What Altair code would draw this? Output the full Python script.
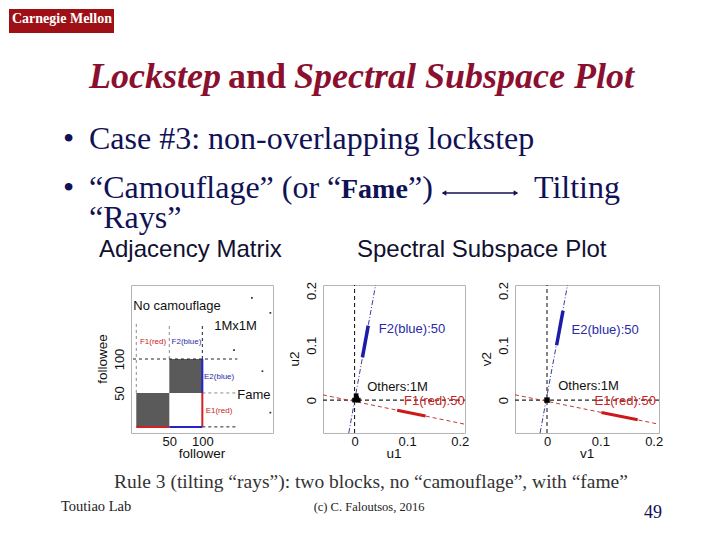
import altair as alt
import pandas as pd

# ---------------- slide text ----------------
LOGO_TEXT = "Carnegie Mellon"
TITLE_PARTS = ["Lockstep", "and", "Spectral Subspace Plot"]
BULLET_1 = "Case #3: non-overlapping lockstep"
BULLET_2_PARTS = ["\u201cCamouflage\u201d (or \u201c", "Fame", "\u201d)", "Tilting"]
BULLET_2_WRAP = "\u201cRays\u201d"
SECTION_TITLES = ["Adjacency Matrix", "Spectral Subspace Plot"]
CAPTION = "Rule 3 (tilting \u201crays\u201d): two blocks, no \u201ccamouflage\u201d, with \u201cfame\u201d"
FOOTER_LEFT = "Toutiao Lab"
FOOTER_MID = "(c) C. Faloutsos, 2016"
PAGE_NUM = "49"

# ---------------- panel 1: adjacency matrix ----------------
ADJ_X_DOMAIN = [-8, 207]
ADJ_Y_DOMAIN = [-9, 209]
ADJ_TICKS = [50, 100]
ADJ_TITLES = ["follower", "followee"]
BLOCK_X1 = [0, 50]
BLOCK_X2 = [50, 100]
BLOCK_Y1 = [0, 50]
BLOCK_Y2 = [50, 100]
GRAY_DASH_X1 = [0, 50, 100]
GRAY_DASH_Y1 = [50, 100, 50]
GRAY_DASH_X2 = [0, 50, 153]
GRAY_DASH_Y2 = [153, 153, 50]
BLACK_DASH_X1 = [100, -5, 100]
BLACK_DASH_Y1 = [100, 100, 0]
BLACK_DASH_X2 = [100, 153, 153]
BLACK_DASH_Y2 = [153, 100, 0]
RED_SEG_X1 = [0, 100]
RED_SEG_Y1 = [0, 0]
RED_SEG_X2 = [50, 100]
RED_SEG_Y2 = [0, 50]
BLUE_SEG_X1 = [50, 100]
BLUE_SEG_Y1 = [0, 50]
BLUE_SEG_X2 = [100, 100]
BLUE_SEG_Y2 = [0, 100]
SPARSE_X = [175, 203, 148, 191, 203]
SPARSE_Y = [190, 168, 113, 82, 21]
ADJ_BIG_LABELS = ["No camouflage", "1Mx1M", "Fame"]
ADJ_BIG_X = [-4.5, 118, 153]
ADJ_BIG_Y = [178, 148.5, 47]
ADJ_RED_LABELS = ["F1(red)", "E1(red)"]
ADJ_RED_X = [5.5, 105]
ADJ_RED_Y = [125, 23.5]
ADJ_BLUE_LABELS = ["F2(blue)", "E2(blue)"]
ADJ_BLUE_X = [53.5, 102.5]
ADJ_BLUE_Y = [125, 73.5]

# ---------------- panels 2 & 3: spectral subspace ----------------
SP_DOMAIN = [-0.06, 0.21]
SP_TICKS = [0, 0.1, 0.2]
U_TITLES = ["u1", "u2"]
V_TITLES = ["v1", "v2"]

U_BLUE_RAY_X = [-0.011, 0.040]
U_BLUE_RAY_Y = [-0.06, 0.21]
U_RED_RAY_X = [-0.06, 0.21]
U_RED_RAY_Y = [0.0095, -0.044]
U_BLUE_PTS_X = [0.015, 0.026]
U_BLUE_PTS_Y = [0.078, 0.136]
U_RED_PTS_X = [0.081, 0.135]
U_RED_PTS_Y = [-0.0184, -0.0291]
U_OTHERS_X = [0.0, 0.004, 0.007, 0.003]
U_OTHERS_Y = [0.0, 0.003, 0.0, 0.008]
U_LABELS = ["F2(blue):50", "Others:1M", "F1(red):50"]
U_LABEL_X = [0.046, 0.024, 0.094]
U_LABEL_Y = [0.129, 0.024, -0.002]

V_BLUE_RAY_X = [-0.013, 0.0385]
V_BLUE_RAY_Y = [-0.06, 0.21]
V_RED_RAY_X = [-0.06, 0.21]
V_RED_RAY_Y = [0.0097, -0.044]
V_BLUE_PTS_X = [0.018, 0.030]
V_BLUE_PTS_Y = [0.100, 0.163]
V_RED_PTS_X = [0.102, 0.170]
V_RED_PTS_Y = [-0.0225, -0.036]
V_OTHERS_X = [0.0]
V_OTHERS_Y = [0.0]
V_LABELS = ["E2(blue):50", "Others:1M", "E1(red):50"]
V_LABEL_X = [0.046, 0.021, 0.089]
V_LABEL_Y = [0.127, 0.026, -0.002]

# ---------------- styling ----------------
SERIF = "Liberation Serif"
SANS = "Liberation Sans"
CMU_RED = "#9e1016"
TITLE_RED = "#8b1030"
NAVY = "#111155"
RED = "#cc2222"
BLUE = "#2a2aa8"
FRAME = "#b4b4b4"
ONE = pd.DataFrame({"k": [0]})
NO_FRAME = alt.ViewBackground(stroke="transparent")
PANEL_FRAME = alt.ViewBackground(stroke=FRAME, strokeWidth=1)

PANEL_H = 148


def txt(text, x, y, **kw):
    return alt.Chart(ONE).mark_text(text=text, **kw).encode(x=alt.value(x), y=alt.value(y))


def x_axis(vals):
    return alt.Axis(values=vals, format="~r", grid=False, ticks=False, domain=False,
                    labelFontSize=13, labelColor="#111", labelPadding=2,
                    labelFont=SANS, title=None)


def y_axis(vals):
    return alt.Axis(values=vals, format="~r", grid=False, ticks=False, domain=False,
                    labelFontSize=13, labelColor="#111", labelAngle=270, labelAlign="center",
                    labelBaseline="bottom", labelPadding=5,
                    labelFont=SANS, title=None)


class Panel:
    """Shared scales and (identical) axes for every layer of one panel."""

    def __init__(self, xdom, ydom, xticks, yticks):
        self.xs = alt.Scale(domain=xdom, nice=False, zero=False)
        self.ys = alt.Scale(domain=ydom, nice=False, zero=False)
        self.xa = x_axis(xticks)
        self.ya = y_axis(yticks)

    def X(self, f):
        return alt.X(f, type="quantitative", scale=self.xs, axis=self.xa)

    def Y(self, f):
        return alt.Y(f, type="quantitative", scale=self.ys, axis=self.ya)

    def rects(self, x1, x2, y1, y2, **kw):
        df = pd.DataFrame({"x": x1, "x2": x2, "y": y1, "y2": y2})
        return alt.Chart(df).mark_rect(**kw).encode(x=self.X("x"), x2="x2:Q", y=self.Y("y"), y2="y2:Q")

    def rules(self, x1, y1, x2, y2, **kw):
        df = pd.DataFrame({"x": x1, "y": y1, "x2": x2, "y2": y2})
        return alt.Chart(df).mark_rule(clip=True, **kw).encode(
            x=self.X("x"), y=self.Y("y"), x2="x2:Q", y2="y2:Q")

    def line(self, xv, yv, **kw):
        df = pd.DataFrame({"x": xv, "y": yv})
        return alt.Chart(df).mark_line(clip=True, **kw).encode(x=self.X("x"), y=self.Y("y"))

    def points(self, xv, yv, **kw):
        df = pd.DataFrame({"x": xv, "y": yv})
        return alt.Chart(df).mark_point(clip=True, filled=True, opacity=1, **kw).encode(
            x=self.X("x"), y=self.Y("y"))

    def labels(self, lab, xv, yv, **kw):
        df = pd.DataFrame({"t": lab, "x": xv, "y": yv})
        return alt.Chart(df).mark_text(align="left", baseline="middle", font=SANS, **kw).encode(
            x=self.X("x"), y=self.Y("y"), text="t:N")


def axis_titles(titles, w, h):
    return [
        txt(titles[0], w / 2, h + 21, font=SANS, fontSize=13.5, color="#111",
            align="center", baseline="middle"),
        txt(titles[1], -28, h / 2, font=SANS, fontSize=13.5, color="#111",
            align="center", baseline="middle", angle=270),
    ]


# ---------------- panel 1 ----------------
W1 = 142
P1 = Panel(ADJ_X_DOMAIN, ADJ_Y_DOMAIN, ADJ_TICKS, ADJ_TICKS)
panel1 = alt.layer(
    P1.rects(BLOCK_X1, BLOCK_X2, BLOCK_Y1, BLOCK_Y2, color="#5a5a5a"),
    P1.rules(GRAY_DASH_X1, GRAY_DASH_Y1, GRAY_DASH_X2, GRAY_DASH_Y2,
             color="#8a8a8a", strokeDash=[3, 3], strokeWidth=1),
    P1.rules(BLACK_DASH_X1, BLACK_DASH_Y1, BLACK_DASH_X2, BLACK_DASH_Y2,
             color="#222", strokeDash=[3, 3], strokeWidth=1),
    P1.rules(RED_SEG_X1, RED_SEG_Y1, RED_SEG_X2, RED_SEG_Y2, color="#d42020", strokeWidth=2),
    P1.rules(BLUE_SEG_X1, BLUE_SEG_Y1, BLUE_SEG_X2, BLUE_SEG_Y2, color="#2424c8", strokeWidth=2),
    P1.points(SPARSE_X, SPARSE_Y, color="#333", size=3, shape="square"),
    P1.labels(ADJ_BIG_LABELS, ADJ_BIG_X, ADJ_BIG_Y, fontSize=13, color="#111"),
    P1.labels(ADJ_RED_LABELS, ADJ_RED_X, ADJ_RED_Y, fontSize=8, color=RED),
    P1.labels(ADJ_BLUE_LABELS, ADJ_BLUE_X, ADJ_BLUE_Y, fontSize=8, color=BLUE),
    *axis_titles(ADJ_TITLES, W1, PANEL_H),
).properties(width=W1, height=PANEL_H, view=PANEL_FRAME)


# ---------------- panels 2 / 3 ----------------
def spectral(w, titles, bray, rray, bpts, rpts, others, others_size, labs):
    P = Panel(SP_DOMAIN, SP_DOMAIN, SP_TICKS, SP_TICKS)
    return alt.layer(
        P.rules([0, SP_DOMAIN[0]], [SP_DOMAIN[0], 0], [0, SP_DOMAIN[1]], [SP_DOMAIN[1], 0],
                color="#222", strokeDash=[4, 3], strokeWidth=1.1),
        P.line(bray[0], bray[1], color="#3b3ba0", strokeDash=[5, 2, 1, 2], strokeWidth=1),
        P.line(rray[0], rray[1], color="#c23838", strokeDash=[4, 3], strokeWidth=1),
        P.line(bpts[0], bpts[1], color="#1c1ca8", strokeWidth=3.5),
        P.line(rpts[0], rpts[1], color="#cc1a1a", strokeWidth=3),
        P.points(others[0], others[1], color="#000", size=others_size, shape="square"),
        P.labels([labs[0][0]], [labs[1][0]], [labs[2][0]], fontSize=13, color=BLUE),
        P.labels([labs[0][1]], [labs[1][1]], [labs[2][1]], fontSize=13, color="#111"),
        P.labels([labs[0][2]], [labs[1][2]], [labs[2][2]], fontSize=13, color=RED),
        *axis_titles(titles, w, PANEL_H),
    ).properties(width=w, height=PANEL_H, view=PANEL_FRAME)


panel2 = spectral(142, U_TITLES, (U_BLUE_RAY_X, U_BLUE_RAY_Y), (U_RED_RAY_X, U_RED_RAY_Y),
                  (U_BLUE_PTS_X, U_BLUE_PTS_Y), (U_RED_PTS_X, U_RED_PTS_Y),
                  (U_OTHERS_X, U_OTHERS_Y), 22, (U_LABELS, U_LABEL_X, U_LABEL_Y))
panel3 = spectral(144, V_TITLES, (V_BLUE_RAY_X, V_BLUE_RAY_Y), (V_RED_RAY_X, V_RED_RAY_Y),
                  (V_BLUE_PTS_X, V_BLUE_PTS_Y), (V_RED_PTS_X, V_RED_PTS_Y),
                  (V_OTHERS_X, V_OTHERS_Y), 30, (V_LABELS, V_LABEL_X, V_LABEL_Y))

# ---------------- slide frame (header + footer) drawn around the first cell ----------------
# coordinates are relative to the first cell, whose top-left sits at page (8, 284)
logo_box = alt.Chart(ONE).mark_rect(color=CMU_RED).encode(
    x=alt.value(0), x2=alt.value(105), y=alt.value(-276), y2=alt.value(-252))
arrow_line = alt.Chart(ONE).mark_rule(color=NAVY, strokeWidth=1.3).encode(
    x=alt.value(434), x2=alt.value(507), y=alt.value(-92))
arrow_l = alt.Chart(ONE).mark_point(shape="triangle-left", filled=True, color=NAVY, size=28, opacity=1).encode(
    x=alt.value(435), y=alt.value(-92))
arrow_r = alt.Chart(ONE).mark_point(shape="triangle-right", filled=True, color=NAVY, size=28, opacity=1).encode(
    x=alt.value(507), y=alt.value(-92))

AB = dict(baseline="alphabetic", align="left")
frame = alt.layer(
    logo_box,
    txt(LOGO_TEXT, 3, -266, font=SERIF, fontSize=14, fontWeight="bold", color="white",
        align="left", baseline="middle"),
    txt(TITLE_PARTS[0], 80, -197, font=SERIF, fontSize=36, fontWeight="bold", fontStyle="italic",
        color=TITLE_RED, **AB),
    txt(TITLE_PARTS[1], 219, -197, font=SERIF, fontSize=36, fontWeight="bold", color=TITLE_RED, **AB),
    txt(TITLE_PARTS[2], 285, -197, font=SERIF, fontSize=36, fontWeight="bold", fontStyle="italic",
        color=TITLE_RED, **AB),
    txt("\u2022", 54, -136, font=SERIF, fontSize=32, color=NAVY, **AB),
    txt(BULLET_1, 80, -136, font=SERIF, fontSize=32, color=NAVY, **AB),
    txt("\u2022", 54, -87, font=SERIF, fontSize=32, color=NAVY, **AB),
    txt(BULLET_2_PARTS[0], 80, -87, font=SERIF, fontSize=32, color=NAVY, **AB),
    txt(BULLET_2_PARTS[1], 332, -87, font=SERIF, fontSize=28, fontWeight="bold", color=NAVY, **AB),
    txt(BULLET_2_PARTS[2], 399, -87, font=SERIF, fontSize=32, color=NAVY, **AB),
    arrow_line, arrow_l, arrow_r,
    txt(BULLET_2_PARTS[3], 525, -87, font=SERIF, fontSize=32, color=NAVY, **AB),
    txt(BULLET_2_WRAP, 80, -57, font=SERIF, fontSize=32, color=NAVY, **AB),
    txt(SECTION_TITLES[0], 90, -28, font=SANS, fontSize=24, color="#101030", **AB),
    txt(SECTION_TITLES[1], 348, -28, font=SANS, fontSize=24, color="#101030", **AB),
    txt(CAPTION, 362, 203, font=SERIF, fontSize=19.5, color="#333", baseline="alphabetic", align="center"),
    txt(FOOTER_LEFT, 52, 226, font=SERIF, fontSize=14.5, color="#222", **AB),
    txt(FOOTER_MID, 360, 226, font=SERIF, fontSize=12.5, color="#222", baseline="alphabetic", align="center"),
    txt(PAGE_NUM, 635, 233, font=SERIF, fontSize=18, color=NAVY, **AB),
).properties(width=72, height=PANEL_H, view=NO_FRAME)

chart = alt.hconcat(frame, panel1, panel2, panel3, spacing=50, bounds="flush").properties(
    padding=0, background="white"
).configure_view(stroke="transparent")

chart.save("out.html", embed_options={"renderer": "svg", "actions": False})
